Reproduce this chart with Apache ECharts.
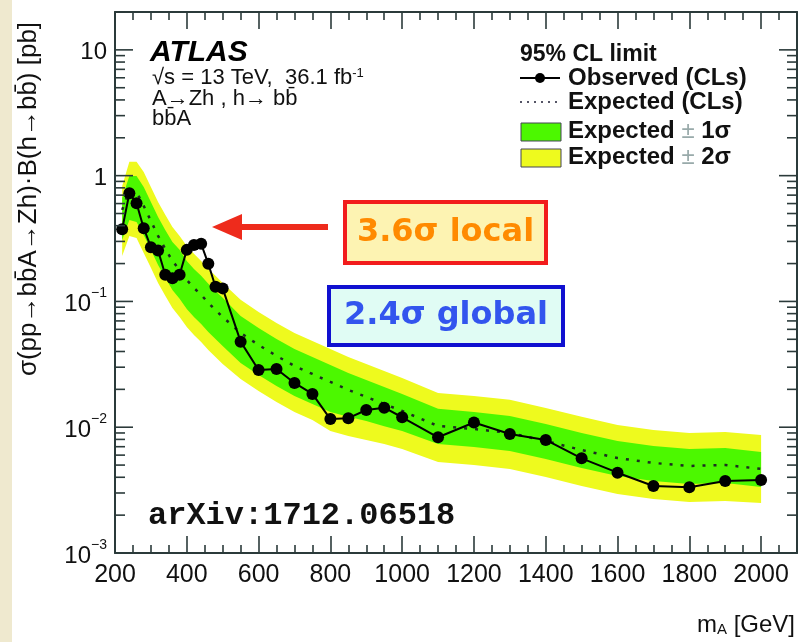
<!DOCTYPE html>
<html>
<head>
<meta charset="utf-8">
<script src="https://cdn.jsdelivr.net/npm/echarts@6/dist/echarts.min.js"></script>
<style>
  html, body { margin: 0; padding: 0; background: #ffffff; }
  #chart { width: 799px; height: 642px; }
</style>
</head>
<body>
<div id="chart"></div>
<script>
// Mass points of the A -> Zh (bbA) scan, in GeV
const massPoints = [220, 240, 260, 280, 300, 320, 340, 360, 380, 400, 420, 440, 460, 480, 500,
  550, 600, 650, 700, 750, 800, 850, 900, 950, 1000, 1100, 1200, 1300, 1400, 1500, 1600, 1700, 1800, 1900, 2000];

// Observed 95% CL upper limit [pb]
const observed = [0.375, 0.725, 0.604, 0.382, 0.270, 0.254, 0.163, 0.153, 0.163, 0.257, 0.281, 0.287, 0.199, 0.131, 0.127,
  0.0479, 0.0285, 0.0290, 0.0225, 0.0184, 0.0116, 0.0118, 0.0137, 0.0143, 0.0120, 0.00832, 0.0109, 0.00884, 0.00792, 0.00566, 0.00435, 0.00341, 0.00333, 0.00374, 0.00381];

// Expected limit (median) [pb]
const expected = [0.534, 0.770, 0.743, 0.575, 0.437, 0.332, 0.2615, 0.210, 0.178, 0.148, 0.128, 0.113, 0.0973, 0.0855, 0.0752,
  0.0562, 0.0451, 0.0369, 0.0307, 0.0265, 0.0229, 0.0198, 0.0174, 0.0153, 0.01346, 0.01023, 0.00968, 0.0090, 0.00777, 0.00659, 0.00569, 0.0052, 0.00492, 0.00501, 0.00466];

// Expected +-1 sigma band edges [pb]
const plus1 = [0.665, 0.995, 0.995, 0.814, 0.618, 0.470, 0.370, 0.297, 0.257, 0.210, 0.181, 0.160, 0.138, 0.121, 0.107,
  0.0767, 0.0616, 0.0503, 0.0419, 0.0362, 0.0313, 0.0270, 0.0237, 0.0209, 0.0184, 0.0140, 0.0132, 0.0123, 0.0106, 0.0090, 0.00777, 0.00709, 0.00671, 0.00684, 0.00636];
const minus1 = [0.308, 0.445, 0.429, 0.338, 0.257, 0.195, 0.154, 0.123, 0.105, 0.0872, 0.0752, 0.0662, 0.0572, 0.0503, 0.0443,
  0.0324, 0.0260, 0.0213, 0.0177, 0.0153, 0.0132, 0.0121, 0.0112, 0.0102, 0.00934, 0.00736, 0.00697, 0.00647, 0.00559, 0.00474, 0.00410, 0.00374, 0.00354, 0.00360, 0.00335];

// Expected +-2 sigma band edges [pb]
const plus2 = [0.829, 1.29, 1.29, 1.07, 0.814, 0.618, 0.488, 0.391, 0.332, 0.276, 0.239, 0.210, 0.181, 0.160, 0.140,
  0.103, 0.0825, 0.0675, 0.0562, 0.0485, 0.0419, 0.0362, 0.0318, 0.0280, 0.0246, 0.0187, 0.0177, 0.0165, 0.0142, 0.0121, 0.0104, 0.00951, 0.0090, 0.00917, 0.00868];
const minus2 = [0.230, 0.332, 0.320, 0.243, 0.185, 0.140, 0.111, 0.0888, 0.0752, 0.0627, 0.0541, 0.0476, 0.0411, 0.0362, 0.0318,
  0.0242, 0.0194, 0.0159, 0.0132, 0.0114, 0.00934, 0.00852, 0.00792, 0.00736, 0.00671, 0.00529, 0.00501, 0.00466, 0.00402, 0.00341, 0.00294, 0.00269, 0.00254, 0.00259, 0.00250];

// Axis ranges and labelled ticks
const xRange = [200, 2100];
const yRange = [0.001, 20];
const xTickLabels = ['200', '400', '600', '800', '1000', '1200', '1400', '1600', '1800', '2000'];
const yDecades = [0.001, 0.01, 0.1, 1, 10];

const FONT = '"Liberation Sans", Arial, Helvetica, sans-serif';
const AXIS_COLOR = '#2b3a3a';
const GREEN = '#4cf800';
const YELLOW = '#eefa1e';

// Log-axis tick positions: 1..9 x 10^k inside the visible range
const yTickValues = [];
for (let e = -3; e <= 1; e++) {
  for (let m = 1; m <= 9; m++) {
    const v = m * Math.pow(10, e);
    if (v <= yRange[1] * 1.0001) yTickValues.push({ v: v, major: m === 1 });
  }
}

function yLabel(value) {
  const e = Math.round(Math.log10(value));
  if (e === 1) return '{n|10}';
  if (e === 0) return '{n|1}';
  return '{n|10}{s|\u2212' + (-e) + '}';
}

function bandSeries(upper, lower, color, z) {
  return {
    type: 'custom',
    coordinateSystem: 'cartesian2d',
    silent: true,
    z: z,
    data: [[massPoints[0], expected[0]]],
    renderItem: function (params, api) {
      const pts = [];
      for (let i = 0; i < massPoints.length; i++) pts.push(api.coord([massPoints[i], upper[i]]));
      for (let i = massPoints.length - 1; i >= 0; i--) pts.push(api.coord([massPoints[i], lower[i]]));
      return { type: 'polygon', shape: { points: pts }, style: { fill: color, stroke: null } };
    }
  };
}

// Inward-pointing log ticks on the left and right frame edges
const yTickSeries = {
  type: 'custom',
  coordinateSystem: 'cartesian2d',
  silent: true,
  clip: false,
  z: 20,
  data: [[xRange[0], yRange[0]]],
  renderItem: function (params, api) {
    const children = [];
    yTickValues.forEach(function (t) {
      const pl = api.coord([xRange[0], t.v]);
      const pr = api.coord([xRange[1], t.v]);
      const len = t.major ? 18 : 10;
      children.push({ type: 'line', shape: { x1: pl[0], y1: pl[1], x2: pl[0] + len, y2: pl[1] },
        style: { stroke: AXIS_COLOR, lineWidth: 1.6 } });
      children.push({ type: 'line', shape: { x1: pr[0], y1: pr[1], x2: pr[0] - len, y2: pr[1] },
        style: { stroke: AXIS_COLOR, lineWidth: 1.6 } });
    });
    return { type: 'group', children: children };
  }
};

const xAxisCommon = {
  type: 'value',
  min: xRange[0],
  max: xRange[1],
  interval: 200,
  axisLine: { show: true, onZero: false, lineStyle: { color: AXIS_COLOR, width: 2 } },
  axisTick: { show: true, inside: true, length: 17, lineStyle: { color: AXIS_COLOR, width: 1.6 } },
  minorTick: { show: true, splitNumber: 4, length: 8, lineStyle: { color: AXIS_COLOR, width: 1.6 } },
  splitLine: { show: false }
};

const option = {
  animation: false,
  backgroundColor: '#ffffff',
  grid: { left: 115, right: 2, top: 12, bottom: 89, containLabel: false },
  xAxis: [
    Object.assign({}, xAxisCommon, {
      position: 'bottom',
      axisLabel: {
        show: true, margin: 10, color: '#111', fontFamily: FONT, fontSize: 25, showMaxLabel: false,
        formatter: function (v) { const i = xTickLabels.indexOf(String(v)); return i >= 0 ? xTickLabels[i] : ''; }
      }
    }),
    Object.assign({}, xAxisCommon, { position: 'top', axisLabel: { show: false } })
  ],
  yAxis: [
    {
      type: 'log', logBase: 10, min: yRange[0], max: yRange[1], position: 'left',
      axisLine: { show: true, lineStyle: { color: AXIS_COLOR, width: 2 } },
      axisTick: { show: false },
      splitLine: { show: false },
      axisLabel: {
        show: true, margin: 8, showMaxLabel: false, color: '#111', fontFamily: FONT,
        formatter: function (v) {
          for (let i = 0; i < yDecades.length; i++) {
            if (Math.abs(Math.log10(v) - Math.log10(yDecades[i])) < 1e-6) return yLabel(yDecades[i]);
          }
          return '';
        },
        rich: {
          n: { fontSize: 24, fontFamily: FONT, color: '#111', lineHeight: 30, verticalAlign: 'bottom' },
          s: { fontSize: 14, fontFamily: FONT, color: '#111', lineHeight: 16, verticalAlign: 'top' }
        }
      }
    },
    {
      type: 'log', logBase: 10, min: yRange[0], max: yRange[1], position: 'right',
      axisLine: { show: true, lineStyle: { color: AXIS_COLOR, width: 2 } },
      axisTick: { show: false }, axisLabel: { show: false }, splitLine: { show: false }
    }
  ],
  series: [
    bandSeries(plus2, minus2, YELLOW, 1),
    bandSeries(plus1, minus1, GREEN, 2),
    {
      name: 'Expected (CLs)', type: 'line', data: massPoints.map((m, i) => [m, expected[i]]),
      symbol: 'none', z: 5,
      lineStyle: { color: '#1d2b22', width: 2.5, type: [3, 8] }
    },
    {
      name: 'Observed (CLs)', type: 'line', data: massPoints.map((m, i) => [m, observed[i]]),
      symbol: 'circle', symbolSize: 12, z: 6,
      lineStyle: { color: '#000', width: 2 }, itemStyle: { color: '#000' }
    },
    yTickSeries
  ],
  graphic: [
    { type: 'rect', shape: { x: 0, y: 0, width: 12, height: 642 }, style: { fill: '#efe9cf' }, z: 0 },
    // Y axis title
    { type: 'text', x: 29, y: 199, rotation: Math.PI / 2, z: 50,
      style: { text: '\u03c3(pp\u2192bb\u0304A\u2192Zh)\u00b7B(h\u2192bb\u0304) [pb]', font: '26px ' + FONT,
        fill: '#111', align: 'center', verticalAlign: 'middle' } },
    // X axis title
    { type: 'text', x: 795, y: 625, z: 50,
      style: { text: 'm{sub|A} [GeV]', font: '24px ' + FONT, fill: '#111', align: 'right', verticalAlign: 'middle',
        rich: { sub: { font: '15px ' + FONT, fill: '#111', verticalAlign: 'bottom', padding: [10, 0, 0, 0] } } } },
    // Experiment label block
    { type: 'text', x: 150, y: 53, z: 50,
      style: { text: 'ATLAS', font: 'italic bold 30px ' + FONT, fill: '#000', verticalAlign: 'middle' } },
    { type: 'text', x: 152, y: 78, z: 50,
      style: { text: '\u221as = 13 TeV,  36.1 fb{s|-1}', font: '22px ' + FONT, fill: '#111', verticalAlign: 'middle',
        rich: { s: { font: '13px ' + FONT, fill: '#111', verticalAlign: 'top', padding: [0, 0, 10, 0] } } } },
    { type: 'text', x: 152, y: 99, z: 50,
      style: { text: 'A\u2192Zh , h\u2192 bb\u0304', font: '22px ' + FONT, fill: '#111', verticalAlign: 'middle' } },
    { type: 'text', x: 152, y: 119, z: 50,
      style: { text: 'bb\u0304A', font: '22px ' + FONT, fill: '#111', verticalAlign: 'middle' } },
    // Legend
    { type: 'text', x: 520, y: 55, z: 50,
      style: { text: '95% CL limit', font: 'bold 23px ' + FONT, fill: '#111', verticalAlign: 'middle' } },
    { type: 'line', shape: { x1: 520, y1: 78, x2: 560, y2: 78 }, style: { stroke: '#000', lineWidth: 2 }, z: 50 },
    { type: 'circle', shape: { cx: 540, cy: 78, r: 5 }, style: { fill: '#000' }, z: 50 },
    { type: 'text', x: 568, y: 78, z: 50,
      style: { text: 'Observed (CLs)', font: 'bold 24px ' + FONT, fill: '#111', verticalAlign: 'middle' } },
    { type: 'line', shape: { x1: 520, y1: 102, x2: 560, y2: 102 },
      style: { stroke: '#556', lineWidth: 2, lineDash: [2, 5] }, z: 50 },
    { type: 'text', x: 568, y: 102, z: 50,
      style: { text: 'Expected (CLs)', font: 'bold 24px ' + FONT, fill: '#111', verticalAlign: 'middle' } },
    { type: 'rect', shape: { x: 521, y: 123, width: 40, height: 18 }, style: { fill: GREEN, stroke: '#445', lineWidth: 1 }, z: 50 },
    { type: 'text', x: 568, y: 131, z: 50,
      style: { text: 'Expected {pm|\u00b1} 1\u03c3', font: 'bold 24px ' + FONT, fill: '#111', verticalAlign: 'middle',
        rich: { pm: { font: '24px ' + FONT, fill: '#9aa' } } } },
    { type: 'rect', shape: { x: 521, y: 149, width: 40, height: 18 }, style: { fill: YELLOW, stroke: '#445', lineWidth: 1 }, z: 50 },
    { type: 'text', x: 568, y: 157, z: 50,
      style: { text: 'Expected {pm|\u00b1} 2\u03c3', font: 'bold 24px ' + FONT, fill: '#111', verticalAlign: 'middle',
        rich: { pm: { font: '24px ' + FONT, fill: '#9aa' } } } },
    // Reference label
    { type: 'text', x: 148, y: 516, z: 50,
      style: { text: 'arXiv:1712.06518', font: 'bold 32px "Liberation Mono", "DejaVu Sans Mono", monospace',
        fill: '#111', verticalAlign: 'middle' } },
    // Excess annotation
    { type: 'line', shape: { x1: 328, y1: 227, x2: 236, y2: 227 }, style: { stroke: '#ee2b1c', lineWidth: 6 }, z: 50 },
    { type: 'polygon', shape: { points: [[212, 227], [242, 214], [242, 240]] }, style: { fill: '#ee2b1c' }, z: 50 },
    { type: 'rect', shape: { x: 345, y: 202, width: 201, height: 61 },
      style: { fill: '#fdf3b2', stroke: '#f21c1c', lineWidth: 4 }, z: 50 },
    { type: 'text', x: 445.5, y: 233, z: 51,
      style: { text: '3.6\u03c3 local', font: 'bold 32px "DejaVu Sans", Verdana, sans-serif', fill: '#ff8a00',
        align: 'center', verticalAlign: 'middle' } },
    { type: 'rect', shape: { x: 329, y: 287, width: 234, height: 58 },
      style: { fill: '#e0fcf4', stroke: '#1010d0', lineWidth: 4 }, z: 50 },
    { type: 'text', x: 446, y: 316, z: 51,
      style: { text: '2.4\u03c3 global', font: 'bold 32px "DejaVu Sans", Verdana, sans-serif', fill: '#3355ee',
        align: 'center', verticalAlign: 'middle' } }
  ]
};

const chart = echarts.init(document.getElementById('chart'), null, { renderer: 'canvas' });
chart.setOption(option);
</script>
</body>
</html>
